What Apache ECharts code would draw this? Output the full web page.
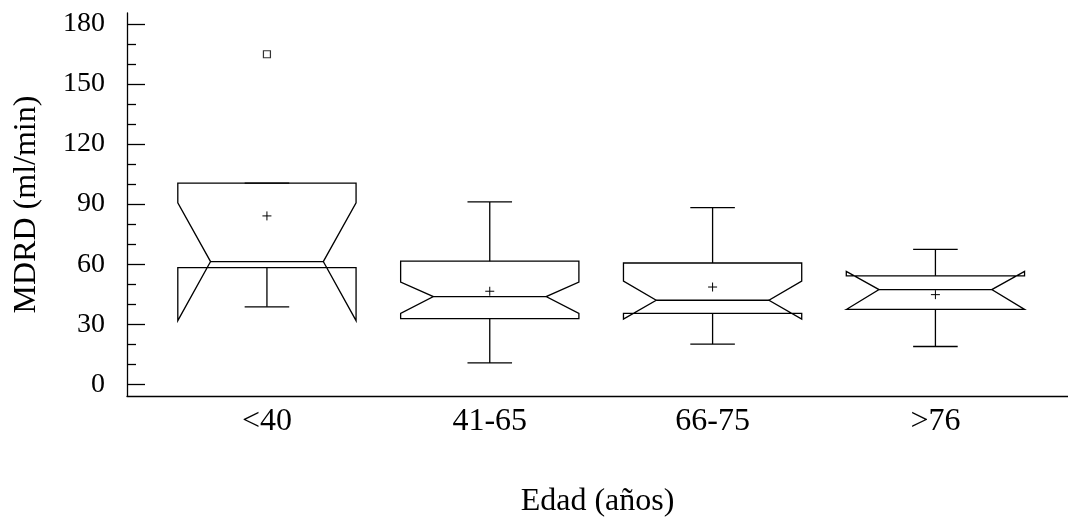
<!DOCTYPE html>
<html>
<head>
<meta charset="utf-8">
<script src="https://cdn.jsdelivr.net/npm/echarts@6/dist/echarts.min.js"></script>
<style>
html,body{margin:0;padding:0;background:#fff;}
#chart{width:1068px;height:523px;}
</style>
</head>
<body>
<div id="chart"></div>
<script>
var categories = ['<40', '41-65', '66-75', '>76'];
var whiskerLow = [38.7, 10.7, 20.1, 18.9];
var q1 = [58.3, 32.8, 35.4, 37.4];
var notchLow = [31.8, 35.4, 32.6, 37.4];
var median = [61.3, 43.8, 42.0, 47.3];
var notchHigh = [90.6, 51.1, 51.6, 56.4];
var q3 = [100.5, 61.5, 60.6, 54.2];
var whiskerHigh = [100.5, 91.1, 88.2, 67.4];
var means = [84.1, 46.5, 48.6, 44.8];
var outliers = [[0, 164.8]];
var yMajorTicks = [0, 30, 60, 90, 120, 150, 180];
var yMinorTicks = [10, 20, 40, 50, 70, 80, 100, 110, 130, 140, 160, 170];

var FONT = 'Liberation Serif';
var LW = 1.3;
var BOX_HALF = 0.4, NOTCH_HALF = 0.253, CAP_HALF = 0.1;

var boxData = categories.map(function (c, i) {
  return [i + 1, whiskerLow[i], q1[i], notchLow[i], median[i], notchHigh[i], q3[i], whiskerHigh[i], means[i]];
});
var outlierData = outliers.map(function (o) { return [o[0] + 1, o[1]]; });

function renderBox(params, api) {
  var x = api.value(0);
  var wl = api.value(1), bq1 = api.value(2), nl = api.value(3), med = api.value(4),
      nh = api.value(5), bq3 = api.value(6), wh = api.value(7), mn = api.value(8);
  var L = x - BOX_HALF, R = x + BOX_HALF, NL = x - NOTCH_HALF, NR = x + NOTCH_HALF;
  var pts = [
    [L, bq1], [L, nl], [NL, med], [L, nh], [L, bq3],
    [R, bq3], [R, nh], [NR, med], [R, nl], [R, bq1]
  ].map(function (p) { return api.coord(p); });
  var style = { stroke: '#000', lineWidth: LW, fill: null };
  var c = api.coord([x, mn]);
  var children = [
    { type: 'polygon', shape: { points: pts }, style: style },
    { type: 'polyline', shape: { points: [api.coord([NL, med]), api.coord([NR, med])] }, style: style },
    { type: 'polyline', shape: { points: [api.coord([x, bq3]), api.coord([x, wh])] }, style: style },
    { type: 'polyline', shape: { points: [api.coord([x - CAP_HALF, wh]), api.coord([x + CAP_HALF, wh])] }, style: style },
    { type: 'polyline', shape: { points: [api.coord([x, bq1]), api.coord([x, wl])] }, style: style },
    { type: 'polyline', shape: { points: [api.coord([x - CAP_HALF, wl]), api.coord([x + CAP_HALF, wl])] }, style: style },
    { type: 'line', shape: { x1: c[0] - 4.5, y1: c[1], x2: c[0] + 4.5, y2: c[1] }, style: { stroke: '#000', lineWidth: 1 } },
    { type: 'line', shape: { x1: c[0], y1: c[1] - 4.5, x2: c[0], y2: c[1] + 4.5 }, style: { stroke: '#000', lineWidth: 1 } }
  ];
  return { type: 'group', children: children };
}

var chart = echarts.init(document.getElementById('chart'));
chart.setOption({
  animation: false,
  backgroundColor: '#fff',
  grid: { left: 127, right: 0, top: 13, bottom: 123, containLabel: false },
  xAxis: {
    type: 'value', min: 0.372, max: 4.595,
    name: 'Edad (años)', nameLocation: 'middle', nameGap: 90,
    nameTextStyle: { fontFamily: FONT, fontSize: 32, color: '#000' },
    axisLine: { show: true, onZero: false, lineStyle: { color: '#000', width: LW } },
    axisTick: { show: false },
    splitLine: { show: false },
    axisLabel: {
      customValues: [1, 2, 3, 4],
      formatter: function (v) { return categories[Math.round(v) - 1] || ''; },
      fontFamily: FONT, fontSize: 32, color: '#000', margin: 10
    }
  },
  yAxis: [{
    type: 'value', min: -5.8, max: 185.4, position: 'left',
    name: 'MDRD (ml/min)', nameLocation: 'middle', nameGap: 84, nameRotate: 90,
    nameTextStyle: { fontFamily: FONT, fontSize: 32, color: '#000' },
    axisLine: { show: true, onZero: false, lineStyle: { color: '#000', width: LW } },
    axisTick: { show: true, inside: true, length: 18, customValues: yMajorTicks, lineStyle: { color: '#000', width: LW } },
    splitLine: { show: false },
    axisLabel: { customValues: yMajorTicks, fontFamily: FONT, fontSize: 28, color: '#000', margin: 22 }
  }, {
    type: 'value', min: -5.8, max: 185.4, position: 'left', offset: 0,
    axisLine: { show: false, onZero: false },
    axisTick: { show: true, inside: true, length: 9, customValues: yMinorTicks, lineStyle: { color: '#000', width: LW } },
    splitLine: { show: false },
    axisLabel: { show: false }
  }],
  series: [{
    type: 'custom',
    renderItem: renderBox,
    data: boxData,
    clip: false,
    silent: true
  }, {
    type: 'scatter',
    data: outlierData,
    symbol: 'rect',
    symbolSize: 7,
    itemStyle: { color: '#fff', borderColor: '#000', borderWidth: 1.2 },
    silent: true
  }]
});
</script>
</body>
</html>
